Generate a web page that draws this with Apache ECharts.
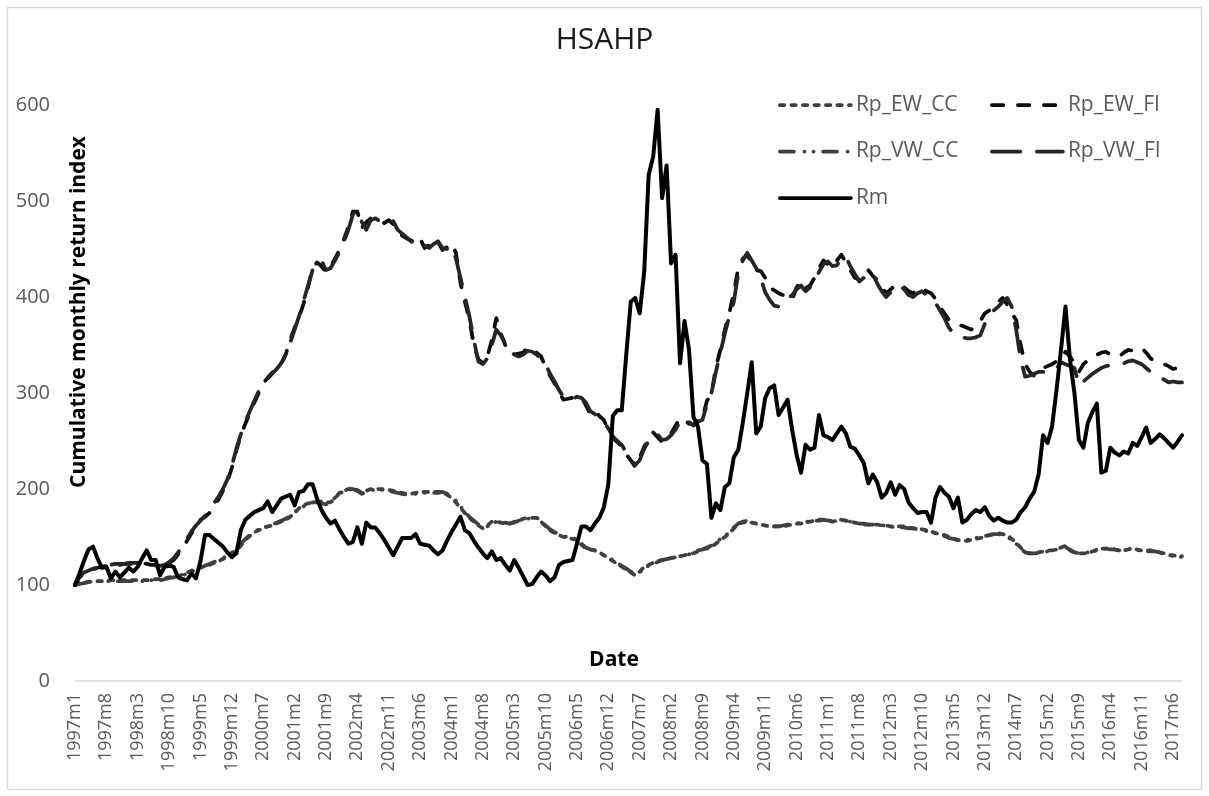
<!DOCTYPE html>
<html>
<head>
<meta charset="utf-8">
<title>HSAHP</title>
<script src="https://cdn.jsdelivr.net/npm/echarts@6/dist/echarts.min.js"></script>
<style>
html, body { margin: 0; padding: 0; background: #fff; }
#chart { width: 1209px; height: 796px; }
</style>
</head>
<body>
<div id="chart"></div>
<script>
// monthly cumulative return index, 1997m1 .. 2017m8
var rpEwCc = [
  100,102,103,103,104,104,104,104,105,105, 105,105,105,105,105,105,105,105,106,106,
  107,108,109,109,111,113,115,117,118,120, 121,123,125,127,130,133,136,141,147,151,
  155,157,159,161,162,164,166,168,171,175, 180,183,185,186,187,187,186,186,190,196,
  198,200,201,199,196,198,200,200,200,200, 199,198,197,196,195,195,196,197,197,197,
  197,197,197,194,191,186,180,175,170,166, 162,159,162,166,166,165,164,164,166,167,
  169,170,170,170,166,161,157,154,152,150, 149,148,147,142,138,137,136,134,131,128,
  125,122,119,116,113,110,114,119,121,123, 125,126,127,128,129,130,131,132,133,135,
  137,138,140,143,147,150,154,159,164,165, 166,165,164,163,162,161,161,161,161,162,
  163,164,164,165,166,167,168,168,167,166, 167,168,167,166,165,164,163,163,163,163,
  162,162,161,161,161,161,160,159,159,158, 157,156,154,153,152,150,148,147,146,146,
  147,148,149,150,152,153,154,153,152,148, 144,139,134,133,133,134,135,136,136,137,
  139,141,137,134,133,133,133,135,136,138, 138,138,137,136,136,137,138,137,136,136,
  136,135,134,133,131,131,130,130
];
var rpEwFi = [
  100,108,112,114,116,118,119,120,121,121, 121,122,122,122,122,123,122,121,121,120,
  122,123,126,132,138,146,154,161,168,171, 175,183,189,198,208,222,240,256,268,279,
  290,300,310,316,321,326,330,340,355,368, 379,393,410,430,436,432,426,431,440,449,
  460,473,489,489,472,478,482,480,478,477, 480,476,468,464,461,459,456,461,451,454,
  459,457,449,452,456,446,415,395,376,350, 335,331,338,355,378,362,350,342,340,341,
  342,348,345,342,338,327,318,310,300,293, 294,295,295,296,287,278,282,276,272,261,
  253,249,244,236,230,223,233,244,252,259, 254,249,254,258,266,274,272,268,267,272,
  274,292,298,327,345,366,383,405,430,440, 444,435,428,427,420,410,407,404,402,399,
  397,410,416,409,412,420,430,438,434,431, 438,444,436,428,420,418,424,428,422,418,
  410,404,408,412,414,410,406,404,408,410, 406,404,398,390,383,376,373,371,370,368,
  366,370,375,383,386,390,395,399,392,383, 376,350,330,322,318,322,326,328,330,333,
  334,343,338,331,322,330,334,336,340,342, 343,340,338,338,342,345,344,346,347,342,
  336,333,331,330,328,325,326,325
];
var rpVwCc = [
  100,101,102,103,103,104,104,104,104,104, 104,104,104,104,104,104,104,105,105,105,
  106,107,108,109,110,112,114,116,118,120, 122,124,126,128,131,134,138,143,148,152,
  155,158,160,161,163,165,167,169,172,176, 179,182,184,186,186,185,184,186,191,195,
  198,199,200,198,195,197,199,199,199,199, 198,197,196,195,194,194,195,196,196,196,
  196,196,197,195,192,188,182,176,171,167, 163,160,161,164,166,166,165,164,165,167,
  168,169,170,170,167,162,158,155,153,151, 150,149,147,143,139,137,136,134,131,129,
  126,123,120,117,114,111,113,118,120,122, 124,126,127,128,129,130,131,132,134,136,
  137,139,141,144,148,151,155,160,164,166, 167,166,164,163,162,162,161,161,162,163,
  164,164,165,166,166,167,167,168,167,167, 168,168,167,166,165,164,164,163,163,162,
  162,162,161,160,160,160,159,159,158,157, 156,155,154,152,151,149,148,147,146,147,
  148,149,150,151,152,153,153,152,150,147, 143,138,134,133,133,133,134,135,136,137,
  139,140,136,134,133,133,134,135,137,138, 138,137,137,136,137,138,137,136,136,135,
  135,135,134,132,131,130,130,129
];
var rpVwFi = [
  100,110,113,115,117,118,120,121,121,122, 122,122,123,123,123,122,122,121,120,120,
  121,124,128,134,140,148,156,162,167,172, 177,185,192,200,210,224,242,257,270,281,
  292,302,309,315,320,325,331,340,352,366, 380,396,412,428,433,438,428,430,438,447,
  458,470,486,491,478,470,480,482,479,476, 478,479,470,466,462,458,455,458,454,451,
  455,458,451,450,453,440,420,400,380,355, 333,330,336,350,366,360,352,345,340,338,
  340,344,343,340,336,330,320,312,303,296, 293,294,296,295,290,281,278,274,270,263,
  255,250,246,238,231,225,230,242,250,257, 257,251,252,256,262,270,274,270,266,270,
  272,288,300,322,342,362,380,395,425,438, 446,438,430,420,405,397,391,390,393,398,
  402,408,412,406,410,416,426,434,437,432, 433,440,442,432,424,416,420,426,424,414,
  406,400,405,410,412,408,402,400,404,406, 402,398,394,386,378,368,362,359,358,357,
  357,358,360,372,380,386,390,395,399,390, 366,335,317,318,320,322,322,322,322,326,
  332,330,328,326,308,312,316,320,323,326, 328,329,330,330,331,333,334,332,330,326,
  322,319,316,314,311,312,311,311
];
var rm = [
  100,112,125,137,140,128,118,119,107,114, 108,113,118,114,119,128,136,126,126,110,
  119,120,119,108,106,105,112,107,125,152, 152,148,144,140,134,129,133,157,168,172,
  176,178,180,187,176,183,190,192,194,183, 197,198,205,205,190,178,170,164,167,158,
  150,143,145,160,143,165,160,160,154,147, 139,131,140,149,149,149,153,143,142,141,
  136,132,136,146,155,163,171,157,154,146, 139,133,128,135,126,128,121,115,126,118,
  109,100,101,108,114,110,104,108,121,124, 125,126,143,161,161,157,164,170,181,205,
  276,282,282,340,395,399,383,426,527,546, 595,503,537,435,444,331,375,345,275,265,
  230,226,170,185,178,202,206,233,241,269, 300,332,258,265,295,305,308,277,285,293,
  262,236,217,246,241,243,277,256,254,251, 258,265,258,244,242,235,227,206,215,207,
  191,196,207,194,204,200,186,180,175,176, 176,165,191,202,196,192,180,191,165,168,
  174,178,176,181,172,167,170,167,165,165, 168,176,181,190,197,215,256,248,265,303,
  345,390,335,300,251,243,269,280,289,217, 219,243,238,235,239,237,248,245,254,264,
  248,252,257,253,248,243,249,256
];

var startYear = 1997;
var months = [];
for (var k = 0; k < rm.length; k++) {
  months.push((startYear + Math.floor(k / 12)) + 'm' + (k % 12 + 1));
}

var yTicks = { min: 0, max: 600, step: 100 };
var FONT = '"Open Sans", "Noto Sans", sans-serif';

function lineSeries(name, values, color, dash, width) {
  return {
    name: name,
    type: 'line',
    data: values,
    symbol: 'none',
    lineStyle: { color: color, width: width, type: dash, cap: 'round', join: 'round' },
    itemStyle: { color: color },
    emphasis: { disabled: true }
  };
}

function legendBlock(names, left) {
  return {
    data: names,
    orient: 'vertical',
    left: left,
    top: 93,
    padding: 0,
    itemWidth: 71,
    itemHeight: 14,
    itemGap: 22.5,
    selectedMode: false,
    itemStyle: { opacity: 0 },
    lineStyle: { width: 3.75 },
    textStyle: { color: '#595959', fontSize: 21, fontFamily: FONT, lineHeight: 24 }
  };
}

var myChart = echarts.init(document.getElementById('chart'));
myChart.setOption({
  animation: false,
  backgroundColor: '#fff',
  title: {
    text: 'HSAHP',
    left: 'center',
    top: 25,
    padding: 0,
    textStyle: { color: '#1a1a1a', fontSize: 30, fontWeight: 'normal', fontFamily: FONT }
  },
  legend: [
    legendBlock(['Rp_EW_CC', 'Rp_VW_CC', 'Rm'], 778),
    legendBlock(['Rp_EW_FI', 'Rp_VW_FI'], 990)
  ],
  grid: { left: 75, right: 27, top: 105, bottom: 115 },
  xAxis: {
    type: 'category',
    data: months,
    boundaryGap: false,
    axisLine: { lineStyle: { color: '#d9d9d9', width: 1.5 } },
    axisTick: { show: false },
    axisLabel: { interval: 6, rotate: 90, color: '#595959', fontSize: 18, fontFamily: FONT, margin: 12 },
    splitLine: { show: false }
  },
  yAxis: {
    type: 'value',
    min: yTicks.min,
    max: yTicks.max,
    interval: yTicks.step,
    axisLine: { show: false },
    axisTick: { show: false },
    splitLine: { show: false },
    axisLabel: { color: '#595959', fontSize: 20, fontFamily: FONT, margin: 25 }
  },
  graphic: [
    {
      type: 'rect',
      silent: true,
      shape: { x: 7.5, y: 7.5, width: 1194, height: 782 },
      style: { fill: 'none', stroke: '#d9d9d9', lineWidth: 1.5 }
    },
    {
      type: 'text',
      x: 79, y: 312,
      rotation: Math.PI / 2,
      style: {
        text: 'Cumulative monthly return index',
        font: 'bold 21px "Open Sans", sans-serif',
        fill: '#000',
        align: 'center', verticalAlign: 'middle',
        textAlign: 'center', textVerticalAlign: 'middle'
      }
    },
    {
      type: 'text',
      x: 614, y: 660,
      style: {
        text: 'Date',
        font: 'bold 21px "Open Sans", sans-serif',
        fill: '#000',
        align: 'center', verticalAlign: 'middle',
        textAlign: 'center', textVerticalAlign: 'middle'
      }
    }
  ],
  series: [
    lineSeries('Rp_EW_CC', rpEwCc, '#404040', [4.5, 7], 3.75),
    lineSeries('Rp_EW_FI', rpEwFi, '#0d0d0d', [11.5, 14.5], 3.75),
    lineSeries('Rp_VW_CC', rpVwCc, '#404040', [14, 10.5, 0.1, 9, 0.1, 9.5], 3.75),
    lineSeries('Rp_VW_FI', rpVwFi, '#262626', [28.5, 16.5], 3.75),
    lineSeries('Rm', rm, '#000', 'solid', 4)
  ]
});
</script>
</body>
</html>
